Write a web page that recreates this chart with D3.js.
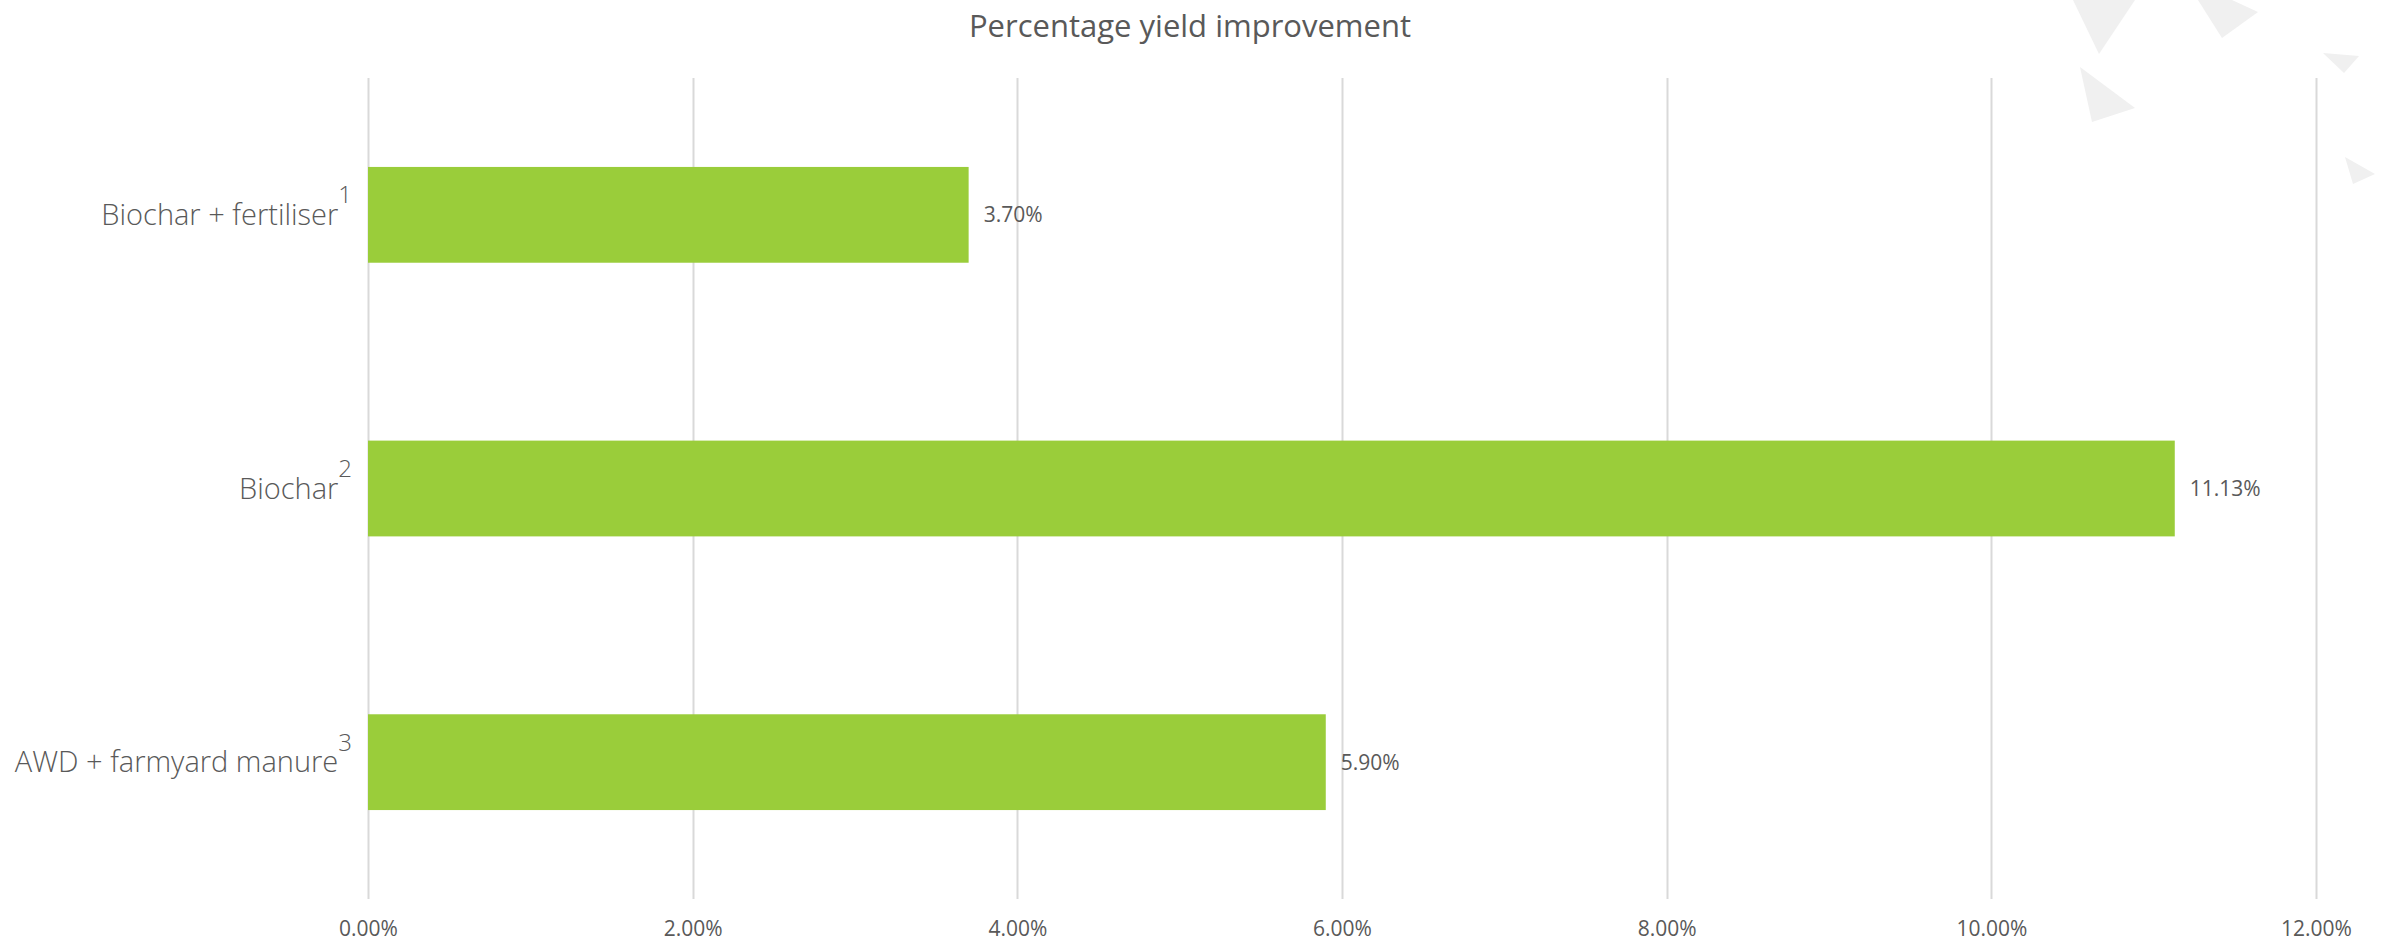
<!DOCTYPE html>
<html>
<head>
<meta charset="utf-8">
<script src="https://cdn.jsdelivr.net/npm/d3@7"></script>
<style>
  html, body { margin: 0; padding: 0; background: #ffffff; }
  svg { display: block; }
  text { font-family: "Open Sans", "Noto Sans", sans-serif; fill: #595959; }
</style>
</head>
<body>
<svg id="chart" width="2384" height="944"></svg>
<script>
// Chart data
const categories = ["Biochar + fertiliser", "Biochar", "AWD + farmyard manure"];
const footnotes = ["1", "2", "3"];
const values = [3.70, 11.13, 5.90];
const tickValues = [0, 2, 4, 6, 8, 10, 12];
const chartTitle = "Percentage yield improvement";

// Decorative background triangles in the top-right corner
const decoTriangles = [
  [[2073, 0], [2135, 0], [2099, 54]],
  [[2198, 0], [2232, 0], [2258, 12], [2222, 38]],
  [[2080, 67], [2135, 108], [2092, 122]],
  [[2323, 53], [2359, 56], [2344, 73]],
  [[2345, 157], [2375, 174], [2353, 184]]
];

const W = 2384, H = 944;
const margin = { top: 78, right: 68, bottom: 45, left: 368 };
const svg = d3.select("#chart");

svg.append("g").selectAll("polygon")
  .data(decoTriangles)
  .join("polygon")
  .attr("points", d => d.map(p => p.join(",")).join(" "))
  .attr("fill", "#f0f0f0");

const x = d3.scaleLinear().domain([0, 12]).range([margin.left, W - margin.right]);
const y = d3.scaleBand().domain(categories).range([margin.top, H - margin.bottom]).paddingInner(0.65).paddingOuter(0.325);

// Title
svg.append("text")
  .attr("x", 1190).attr("y", 37)
  .attr("text-anchor", "middle")
  .style("font-size", "31px")
  .text(chartTitle);

// Vertical gridlines
svg.append("g").selectAll("line")
  .data(tickValues)
  .join("line")
  .attr("x1", d => Math.round(x(d)) + 0.5).attr("x2", d => Math.round(x(d)) + 0.5)
  .attr("y1", margin.top).attr("y2", H - margin.bottom)
  .attr("stroke", "#d9d9d9").attr("stroke-width", 2);

// Bottom axis labels
const xAxis = d3.axisBottom(x).tickValues(tickValues).tickSize(0).tickPadding(0)
  .tickFormat(d => d3.format(".2f")(d) + "%");
svg.append("g")
  .attr("transform", `translate(0, ${H - margin.bottom + 22})`)
  .call(xAxis)
  .call(g => g.select(".domain").remove())
  .call(g => g.selectAll("text").style("font-size", "21px").attr("fill", "#595959")
    .style("font-family", "'Open Sans', sans-serif"));

// Bars
svg.append("g").selectAll("rect")
  .data(values)
  .join("rect")
  .attr("x", x(0))
  .attr("y", (d, i) => y(categories[i]))
  .attr("width", d => x(d) - x(0))
  .attr("height", y.bandwidth())
  .attr("fill", "#9acd3a");

// Value labels
svg.append("g").selectAll("text")
  .data(values)
  .join("text")
  .attr("x", d => x(d) + 15)
  .attr("y", (d, i) => y(categories[i]) + y.bandwidth() / 2)
  .attr("dy", "0.35em")
  .style("font-size", "21px")
  .text(d => d3.format(".2f")(d) + "%");

// Category labels with superscript footnote numbers
const lab = svg.append("g").selectAll("text")
  .data(categories)
  .join("text")
  .attr("x", 352)
  .attr("y", (d, i) => y(d) + y.bandwidth() / 2)
  .attr("dy", "0.35em")
  .attr("text-anchor", "end")
  .style("font-size", "29px")
  .style("font-weight", 300);
lab.append("tspan").text(d => d);
lab.append("tspan")
  .attr("dy", "-0.9em")
  .style("font-size", "24px")
  .text((d, i) => footnotes[i]);
</script>
</body>
</html>
